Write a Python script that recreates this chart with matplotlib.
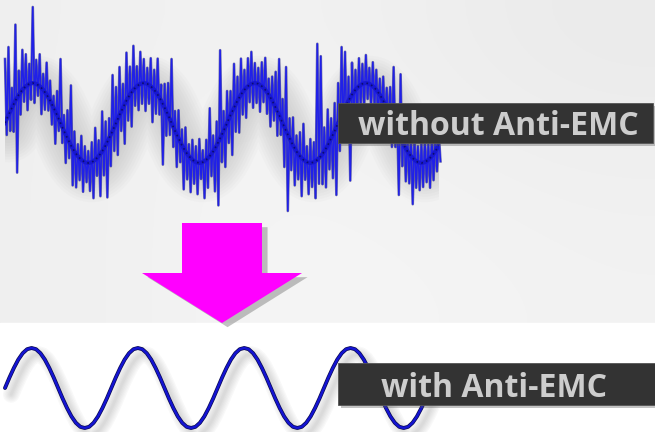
import matplotlib
matplotlib.use('Agg')
import matplotlib.pyplot as plt
import matplotlib.patheffects as pe
from matplotlib.patches import Rectangle, FancyArrow
import numpy as np

# top trace: underlying sine, 32 samples per period (amplitude = 1)
noisy_base = [0, .2, .38, .56, .71, .83, .92, .98, 1, .98, .92, .83, .71, .56, .38, .2,
              0, -.2, -.38, -.56, -.71, -.83, -.92, -.98, -1, -.98, -.92, -.83, -.71, -.56, -.38, -.2,
              0, .2, .38, .56, .71, .83, .92, .98, 1, .98, .92, .83, .71, .56, .38, .2,
              0, -.2, -.38, -.56, -.71, -.83, -.92, -.98, -1, -.98, -.92, -.83, -.71, -.56, -.38, -.2,
              0, .2, .38, .56, .71, .83, .92, .98, 1, .98, .92, .83, .71, .56, .38, .2,
              0, -.2, -.38, -.56, -.71, -.83, -.92, -.98, -1, -.98, -.92, -.83, -.71, -.56, -.38, -.2,
              0, .2, .38, .56, .71, .83, .92, .98, 1, .98, .92, .83, .71, .56, .38, .2,
              0, -.2, -.38, -.56, -.71, -.83, -.92, -.98, -1, -.98, -.92, -.83, -.71, -.56]

# spike heights above / below the sine at each sample
noise_up = [1.6, 1.7, 0.5, 1.9, 0.6, 1.0, 0.8, 0.5, 1.9, 0.6,
            0.8, 0.4, 0.8, 0.5, 0.3, 0.6, 1.6, 0.4, 0.7, 1.5,
            0.5, 0.3, 0.6, 0.4, 0.3, 0.5, 0.8, 0.4, 1.0, 0.6,
            0.5, 1.4, 0.9, 1.2, 0.6, 1.2, 0.7, 1.1, 0.5, 0.8,
            0.6, 0.4, 0.7, 0.5, 0.9, 0.4, 0.6, 0.8, 1.6, 0.5,
            0.7, 0.4, 0.6, 0.3, 0.5, 0.4, 0.6, 0.3, 0.5, 1.2,
            0.4, 0.6, 2.2, 0.5, 0.8, 0.6, 1.1, 0.6, 0.9, 0.5,
            0.7, 0.8, 0.5, 0.4, 0.6, 0.8, 0.4, 0.6, 0.9, 1.4,
            0.6, 1.6, 0.5, 0.7, 0.4, 0.6, 0.9, 0.4, 0.6, 0.5,
            2.9, 2.5, 0.6, 0.9, 0.5, 0.7, 1.0, 1.7, 1.4, 0.6,
            0.8, 0.5, 0.7, 0.5, 0.7, 0.4, 0.6, 0.5, 0.4, 0.6,
            0.5, 0.7, 1.4, 0.5, 1.6, 0.6, 0.4, 0.5, 0.6, 0.4,
            0.5, 0.6, 0.4, 0.5, 0.4, 0.3]
noise_down = [0.3, 0.4, 0.6, 1.8, 0.5, 0.3, 0.6, 0.4, 0.5, 0.3,
              0.7, 0.5, 0.4, 0.6, 0.9, 0.4, 0.5, 0.8, 0.5, 1.0,
              0.9, 0.6, 0.8, 0.5, 0.7, 0.9, 0.4, 1.0, 0.6, 1.3,
              0.7, 0.5, 0.8, 0.4, 0.9, 0.5, 0.8, 0.4, 0.6, 0.5,
              0.7, 0.5, 0.9, 0.6, 0.5, 1.6, 0.7, 0.5, 0.6, 0.9,
              0.6, 1.1, 0.7, 0.9, 0.6, 0.8, 0.4, 0.9, 0.7, 0.5,
              1.0, 1.5, 0.6, 0.9, 0.5, 1.0, 0.6, 0.8, 0.5, 0.7,
              0.4, 0.6, 0.5, 0.7, 0.4, 0.6, 0.8, 0.5, 0.7, 0.5,
              1.1, 2.0, 0.8, 1.0, 0.7, 1.0, 0.5, 0.8, 0.6, 0.9,
              0.6, 0.7, 0.9, 0.6, 1.0, 1.6, 0.7, 0.5, 0.8, 2.0,
              0.6, 0.7, 0.5, 0.6, 0.4, 0.6, 0.5, 0.8, 0.6, 0.7,
              0.5, 0.8, 0.6, 1.6, 0.7, 0.9, 0.8, 1.2, 0.7, 0.7,
              0.6, 0.5, 0.7, 0.6, 0.5, 0.4]

# bottom trace: clean sine, 24 samples per period
clean_wave = [0, .26, .5, .71, .87, .97, 1, .97, .87, .71, .5, .26,
              0, -.26, -.5, -.71, -.87, -.97, -1, -.97, -.87, -.71, -.5, -.26,
              0, .26, .5, .71, .87, .97, 1, .97, .87, .71, .5, .26,
              0, -.26, -.5, -.71, -.87, -.97, -1, -.97, -.87, -.71, -.5, -.26,
              0, .26, .5, .71, .87, .97, 1, .97, .87, .71, .5, .26,
              0, -.26, -.5, -.71, -.87, -.97, -1, -.97, -.87, -.71, -.5, -.26,
              0, .26, .5, .71, .87, .97, 1, .97, .87, .71, .5, .26,
              0, -.26, -.5, -.71, -.87, -.97, -1, -.97, -.87, -.71, -.5, -.26]

labels = ['without Anti-EMC', 'with Anti-EMC']

W, H = 655, 432
fig = plt.figure(figsize=(W / 100, H / 100), dpi=100)

# background: light grey board area on top, white strip at the bottom
ax_bg = fig.add_axes([0, 0, 1, 1])
ax_bg.set_xlim(0, W)
ax_bg.set_ylim(H, 0)
ax_bg.axis('off')
grad = np.array([[[0.94, 0.94, 0.94], [0.95, 0.95, 0.95], [0.94, 0.94, 0.94], [0.92, 0.92, 0.92]],
                 [[0.94, 0.94, 0.94], [0.96, 0.96, 0.96], [0.95, 0.95, 0.95], [0.94, 0.94, 0.94]],
                 [[0.94, 0.94, 0.94], [0.96, 0.96, 0.96], [0.96, 0.96, 0.96], [0.95, 0.95, 0.95]]])
ax_bg.imshow(grad, extent=(0, W, 323, 0), interpolation='bicubic', aspect='auto')
ax_bg.add_patch(Rectangle((0, 323), W, H - 323, color='white'))

# noisy trace
n = len(noisy_base)
base = np.array(noisy_base)
ax_top = fig.add_axes([5 / W, 1 - 243 / H, (n - 1) * 3.47 / W, 240 / H])
ax_top.set_xlim(0, n - 1)
ax_top.set_ylim(-3, 3)
ax_top.axis('off')
k = np.arange(n)
# soft grey halo under the trace
for lw in range(8, 52, 4):
    ax_top.plot(k + 1.0, base - 0.15, color='#606060', lw=lw, alpha=0.025,
                solid_capstyle='round', solid_joinstyle='round')
xs = np.column_stack([k, k + 0.5]).ravel()
ys = np.column_stack([base + np.array(noise_up), base - np.array(noise_down)]).ravel()
ax_top.plot(xs, ys, color='#0c0c70', lw=1.9, alpha=0.55, clip_on=False)
ax_top.plot(xs, ys, color='#2020e8', lw=1.1, clip_on=False)
ax_top.plot(k, base, color='#1818d0', lw=3)
ax_top.plot(k, base, color='#050530', lw=1.2, ls=(0, (1, 2)), alpha=0.6)

# clean trace
m = len(clean_wave)
clean = np.array(clean_wave)
ax_bot = fig.add_axes([5 / W, 0, (m - 1) * 4.43 / W, 88 / H])
ax_bot.set_xlim(0, m - 1)
ax_bot.set_ylim(-1.1, 1.1)
ax_bot.axis('off')
j = np.arange(m)
for lw in range(2, 14, 2):
    ax_bot.plot(j + 1.4, clean - 0.16, color='#505050', lw=lw, alpha=0.035, clip_on=False,
                solid_capstyle='round', solid_joinstyle='round')
ax_bot.plot(j, clean, color='#0a0a50', lw=2.8, clip_on=False, solid_capstyle='round')
ax_bot.plot(j, clean, color='#1414d2', lw=1.8, clip_on=False, solid_capstyle='round')

# labels and arrow
ax_fg = fig.add_axes([0, 0, 1, 1])
ax_fg.set_xlim(0, W)
ax_fg.set_ylim(H, 0)
ax_fg.axis('off')
ax_fg.patch.set_alpha(0)

shadow = [pe.SimplePatchShadow(offset=(2, -2), shadow_rgbFace='#555555', alpha=0.35), pe.Normal()]
ax_fg.add_patch(Rectangle((338, 103), 315, 40, facecolor='#333333', edgecolor='#555555', lw=0.6,
                          path_effects=shadow))
ax_fg.add_patch(Rectangle((338, 363), 317, 42, facecolor='#333333', edgecolor='#555555', lw=0.6,
                          path_effects=shadow))
ax_fg.text(498, 135, labels[0], color='#cdcdcd', fontsize=23, fontweight='bold',
           family=['Open Sans', 'DejaVu Sans'], ha='center', va='baseline')
ax_fg.text(494, 397, labels[1], color='#cdcdcd', fontsize=23, fontweight='bold',
           family=['Open Sans', 'DejaVu Sans'], ha='center', va='baseline')

arrow = FancyArrow(222, 223, 0, 100, width=80, head_width=160, head_length=50,
                   length_includes_head=True, facecolor='#ff00ff', edgecolor='none',
                   path_effects=[pe.SimplePatchShadow(offset=(4, -3), shadow_rgbFace='#777777', alpha=0.45),
                                 pe.Normal()])
ax_fg.add_patch(arrow)

fig.savefig('out.png', dpi=100)
